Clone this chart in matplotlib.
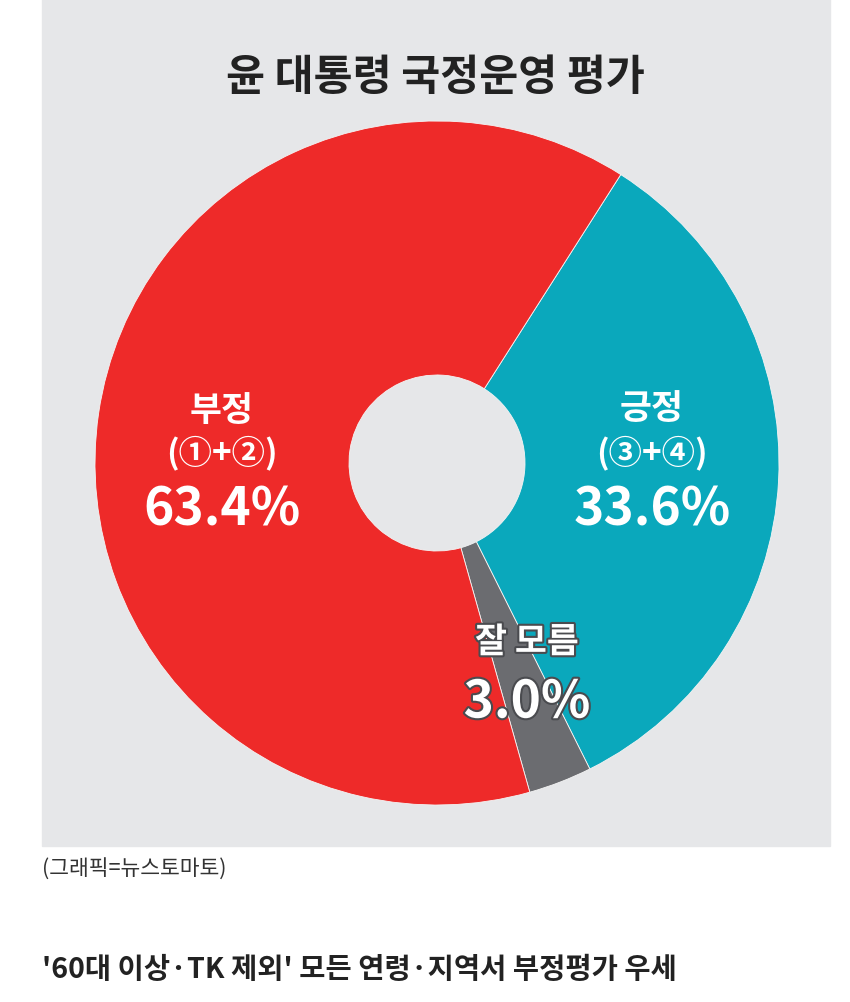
import matplotlib.pyplot as plt
import matplotlib.patheffects as pe
from matplotlib.patches import Rectangle

plt.rcParams['font.family'] = ['Noto Sans CJK KR', 'DejaVu Sans']

names = ['긍정', '잘 모름', '부정']
sub_names = ['(③+④)', '', '(①+②)']
shares = [33.6, 3.0, 63.4]
colors = ['#0aa8bc', '#6b6c70', '#ee2a29']

title = '윤 대통령 국정운영 평가'
source = '(그래픽=뉴스토마토)'
headline = "'60대 이상·TK 제외' 모든 연령·지역서 부정평가 우세"

W, H = 850, 1003
fig = plt.figure(figsize=(W / 100, H / 100), dpi=100)
ax = fig.add_axes([0, 0, 1, 1])

# grey panel behind the chart
ax.add_patch(Rectangle((42, H - 847), 788, 847, color='#e6e7e9', zorder=0))

# donut
cx, cy, r, hole = 437, H - 464, 342, 88
ax.pie(shares, colors=colors, center=(cx, cy), radius=r,
       startangle=57.5, counterclock=False, frame=True,
       wedgeprops=dict(width=r - hole, edgecolor='#f4f4f4', linewidth=0.6))

ax.set_xlim(0, W)
ax.set_ylim(0, H)
ax.axis('off')

ax.text(435, H - 78, title, ha='center', va='center', fontsize=30.5,
        fontweight='bold', color='#222222')

# slice labels: (x, y of name, y of sub name, y of value)
spots = [(652, 408, 453, 510), (527, 643, None, 703), (222, 410, 453, 510)]
for name, sub, val, (x, y1, y2, y3) in zip(names, sub_names, shares, spots):
    fx = []
    if y2 is None:
        fx = [pe.withStroke(linewidth=3, foreground='#4a4b4f')]
    ax.text(x, H - y1, name, ha='center', va='center', fontsize=25,
            fontweight='bold', color='white', path_effects=fx)
    if sub:
        ax.text(x, H - y2, sub, ha='center', va='center', fontsize=24,
                fontweight='bold', color='white')
    ax.text(x, H - y3, f'{val:.1f}%', ha='center', va='center', fontsize=37,
            fontweight='bold', color='white', path_effects=fx)

ax.text(42, H - 870, source, ha='left', va='center', fontsize=15.5,
        color='#333333')
ax.text(42, H - 970, headline, ha='left', va='center', fontsize=20.5,
        fontweight='bold', color='#222222')

fig.savefig('out.png', dpi=100)
